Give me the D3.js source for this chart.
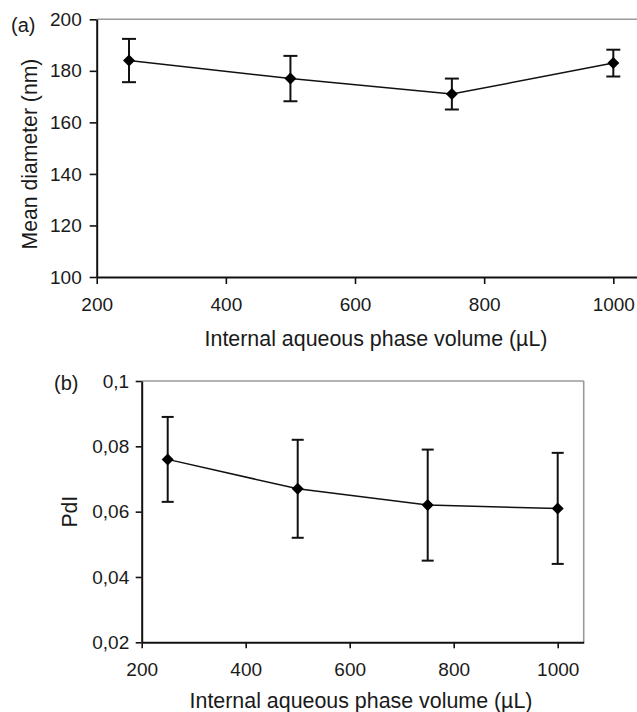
<!DOCTYPE html>
<html>
<head>
<meta charset="utf-8">
<script src="https://cdn.jsdelivr.net/npm/d3@7"></script>
<style>
  html, body { margin: 0; padding: 0; background: #fff; }
  svg { display: block; font-family: "Liberation Sans", Arial, sans-serif; }
</style>
</head>
<body>
<svg id="chart" width="637" height="712"></svg>
<script>
// ---- data ----
const volumes = [250, 500, 750, 1000];
const diameterMean = [184, 177, 171, 183];
const diameterErr = [8.4, 8.8, 6, 5.2];
const pdiMean = [0.076, 0.067, 0.062, 0.061];
const pdiErr = [0.013, 0.015, 0.017, 0.017];
const xTicks = [200, 400, 600, 800, 1000];
const diameterTicks = [100, 120, 140, 160, 180, 200];
const pdiTicks = [0.02, 0.04, 0.06, 0.08, 0.1];
const xTitle = "Internal aqueous phase volume (µL)";

const svg = d3.select("#chart");
const commaFmt = d3.formatLocale({decimal: ",", thousands: ".", grouping: [3], currency: ["", ""]}).format(".2~f");
const intFmt = d3.format("d");

function panel(cfg) {
  const x = d3.scaleLinear().domain([200, 1050]).range([cfg.left, cfg.right]);
  const y = d3.scaleLinear().domain(cfg.yDomain).range([cfg.bottom, cfg.top]);
  const g = svg.append("g");

  // gray frame (top and right)
  g.append("line").attr("x1", cfg.left).attr("x2", cfg.right).attr("y1", cfg.top).attr("y2", cfg.top)
    .attr("stroke", "#9a9a9a").attr("stroke-width", 1.6);
  g.append("line").attr("x1", cfg.right).attr("x2", cfg.right).attr("y1", cfg.top).attr("y2", cfg.bottom)
    .attr("stroke", "#9a9a9a").attr("stroke-width", 1.6);

  const xa = g.append("g").attr("transform", `translate(0,${cfg.bottom})`)
    .call(d3.axisBottom(x).tickValues(xTicks).tickFormat(intFmt).tickSize(cfg.tick).tickSizeOuter(0).tickPadding(cfg.xPad));
  const ya = g.append("g").attr("transform", `translate(${cfg.left},0)`)
    .call(d3.axisLeft(y).tickValues(cfg.yTicks).tickFormat(cfg.yFmt).tickSize(cfg.tick).tickSizeOuter(0).tickPadding(cfg.yPad));
  [xa, ya].forEach(a => {
    a.attr("font-size", cfg.tickFont).attr("font-family", "Liberation Sans, Arial, sans-serif");
    a.select(".domain").attr("stroke", "#111").attr("stroke-width", 2);
    a.selectAll(".tick line").attr("stroke", "#111").attr("stroke-width", 1.6);
    a.selectAll(".tick text").attr("fill", "#1a1a1a").attr("font-size", cfg.tickFont);
  });

  const pts = volumes.map((v, i) => ({x: v, y: cfg.mean[i], e: cfg.err[i]}));

  // line
  g.append("path").datum(pts)
    .attr("d", d3.line().x(d => x(d.x)).y(d => y(d.y)))
    .attr("fill", "none").attr("stroke", "#111").attr("stroke-width", 1.5);

  // error bars
  const eb = g.selectAll(".eb").data(pts).enter().append("g").attr("stroke", "#111").attr("stroke-width", 2);
  eb.append("line").attr("x1", d => x(d.x)).attr("x2", d => x(d.x))
    .attr("y1", d => y(d.y - d.e)).attr("y2", d => y(d.y + d.e));
  eb.append("line").attr("x1", d => x(d.x) - cfg.cap).attr("x2", d => x(d.x) + cfg.cap)
    .attr("y1", d => y(d.y + d.e)).attr("y2", d => y(d.y + d.e));
  eb.append("line").attr("x1", d => x(d.x) - cfg.cap).attr("x2", d => x(d.x) + cfg.cap)
    .attr("y1", d => y(d.y - d.e)).attr("y2", d => y(d.y - d.e));

  // diamond markers
  g.selectAll(".mk").data(pts).enter().append("path")
    .attr("transform", d => `translate(${x(d.x)},${y(d.y)})`)
    .attr("d", `M0,-6L6,0L0,6L-6,0Z`)
    .attr("fill", "#000");

  // titles
  g.append("text").attr("x", cfg.xTitleX).attr("y", cfg.xTitleY).attr("text-anchor", "middle")
    .attr("font-size", 21.4).attr("fill", "#1a1a1a").text(xTitle);
  g.append("text").attr("transform", `translate(${cfg.yTitleX},${cfg.yTitleY}) rotate(-90)`)
    .attr("text-anchor", "middle").attr("font-size", 21.2).attr("fill", "#1a1a1a").text(cfg.yTitle);
  g.append("text").attr("x", cfg.tagX).attr("y", cfg.tagY).attr("font-size", 20)
    .attr("fill", "#1a1a1a").text(cfg.tag);
}

panel({
  left: 96.7, right: 645.6, top: 19.3, bottom: 277,
  yDomain: [100, 200], yTicks: diameterTicks, yFmt: intFmt,
  mean: diameterMean, err: diameterErr,
  tick: 7, xPad: 14, yPad: 8, tickFont: 19, cap: 7,
  xTitleX: 376, xTitleY: 346,
  yTitle: "Mean diameter (nm)", yTitleX: 36.5, yTitleY: 154,
  tag: "(a)", tagX: 11, tagY: 32
});

panel({
  left: 141.7, right: 583.7, top: 381, bottom: 642.3,
  yDomain: [0.02, 0.1], yTicks: pdiTicks, yFmt: commaFmt,
  mean: pdiMean, err: pdiErr,
  tick: 6, xPad: 14, yPad: 6.5, tickFont: 19, cap: 6,
  xTitleX: 361, xTitleY: 708,
  yTitle: "PdI", yTitleX: 77, yTitleY: 511.7,
  tag: "(b)", tagX: 54, tagY: 390
});
</script>
</body>
</html>
